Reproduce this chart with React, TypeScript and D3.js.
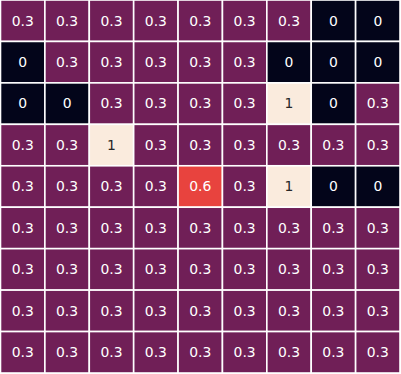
import React, { useRef, useEffect } from 'react';
import * as d3 from 'd3';

// heatmap values, row by row (top to bottom)
const rows = [0, 1, 2, 3, 4, 5, 6, 7, 8];
const cols = [0, 1, 2, 3, 4, 5, 6, 7, 8];
const values: number[][] = [
  [0.3, 0.3, 0.3, 0.3, 0.3, 0.3, 0.3, 0, 0],
  [0, 0.3, 0.3, 0.3, 0.3, 0.3, 0, 0, 0],
  [0, 0, 0.3, 0.3, 0.3, 0.3, 1, 0, 0.3],
  [0.3, 0.3, 1, 0.3, 0.3, 0.3, 0.3, 0.3, 0.3],
  [0.3, 0.3, 0.3, 0.3, 0.6, 0.3, 1, 0, 0],
  [0.3, 0.3, 0.3, 0.3, 0.3, 0.3, 0.3, 0.3, 0.3],
  [0.3, 0.3, 0.3, 0.3, 0.3, 0.3, 0.3, 0.3, 0.3],
  [0.3, 0.3, 0.3, 0.3, 0.3, 0.3, 0.3, 0.3, 0.3],
  [0.3, 0.3, 0.3, 0.3, 0.3, 0.3, 0.3, 0.3, 0.3],
];

// rocket-like colormap stops
const colorStops = [0, 0.3, 0.6, 1];
const colorRange = ['#03051a', '#701f57', '#e8433e', '#faebdd'];

const width = 401;
const height = 374;

const App = () => {
  const svgRef = useRef<SVGSVGElement>(null);

  useEffect(() => {
    const svg = d3.select(svgRef.current);
    svg.selectAll('*').remove();

    const x = d3.scaleBand<number>().domain(cols).range([0.5, 400]);
    const y = d3.scaleBand<number>().domain(rows).range([0, 373]);
    const color = d3.scaleLinear<string>().domain(colorStops).range(colorRange);

    const cells = values.flatMap((row, r) => row.map((v, c) => ({ r, c, v })));

    svg.append('rect')
      .attr('width', width)
      .attr('height', height)
      .attr('fill', 'white');

    svg.selectAll('rect.cell')
      .data(cells)
      .enter()
      .append('rect')
      .attr('class', 'cell')
      .attr('x', d => x(d.c)!)
      .attr('y', d => y(d.r)!)
      .attr('width', x.bandwidth())
      .attr('height', y.bandwidth())
      .attr('fill', d => color(d.v))
      .attr('stroke', 'white')
      .attr('stroke-width', 1.6);

    svg.selectAll('text.label')
      .data(cells)
      .enter()
      .append('text')
      .attr('class', 'label')
      .attr('x', d => x(d.c)! + x.bandwidth() / 2)
      .attr('y', d => y(d.r)! + y.bandwidth() / 2)
      .attr('dy', '0.35em')
      .attr('text-anchor', 'middle')
      .attr('font-family', 'DejaVu Sans, sans-serif')
      .attr('font-size', 13.9)
      .attr('fill', d => (d.v > 0.8 ? '#262626' : 'white'))
      .text(d => String(d.v));
  }, []);

  return (
    <svg
      ref={svgRef}
      width={width}
      height={height}
      style={{ position: 'fixed', left: 0, top: 0, display: 'block' }}
    />
  );
};

export default App;
